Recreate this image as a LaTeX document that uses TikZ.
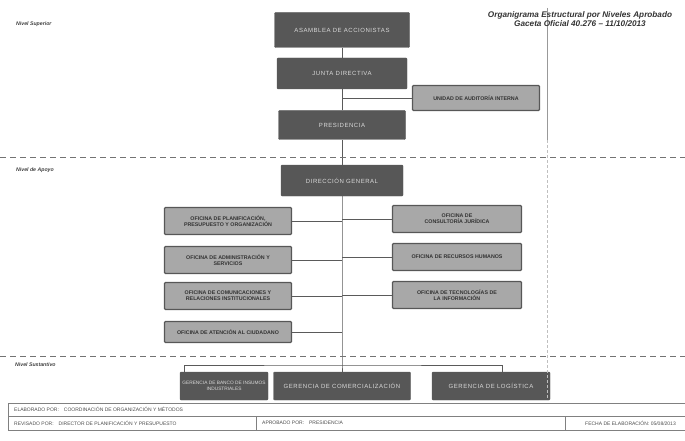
\documentclass[tikz,border=0pt]{standalone}
\usepackage{fontspec}
\setmainfont{Liberation Sans}
\newfontfamily\espaciada[LetterSpace=9]{Liberation Sans}
\definecolor{boxdark}{HTML}{575757}
\definecolor{boxlight}{HTML}{A8A8A8}
\definecolor{linegray}{HTML}{5A5A5A}

\begin{document}
\begin{tikzpicture}[x=1pt,y=-1pt,
	mainbox/.style={draw=boxdark,fill=boxdark,rounded corners=1pt,text=white!85!black,align=center,inner sep=1pt,font=\espaciada\fontsize{6}{7}\selectfont},
	offbox/.style={draw=boxdark,line width=1.3pt,fill=boxlight,rounded corners=1pt,text=black!80,align=center,inner sep=1pt,font=\bfseries\fontsize{5.3}{6}\selectfont,minimum width=127,minimum height=27},
	link/.style={draw=linegray,line width=0.8pt},
	nivel/.style={dashed,dash pattern=on 6pt off 4pt,draw=black!55,line width=0.7pt},
	nivtext/.style={anchor=west,inner sep=0pt,font=\bfseries\itshape\fontsize{5.2}{6}\selectfont,text=black!75},
	pie/.style={anchor=west,inner sep=0pt,font=\fontsize{5}{6}\selectfont,text=black!70}]
	\useasboundingbox (0,0) rectangle (685,441);
	
	% nivel superior
	\node[mainbox,minimum width=135,minimum height=35] (asam)   at (342, 30)   {ASAMBLEA DE ACCIONISTAS};
	\node[mainbox,minimum width=130,minimum height=31] (junta)  at (342, 73.5) {JUNTA DIRECTIVA};
	\node[offbox, minimum width=127,minimum height=25] (audit)  at (476, 98)   {UNIDAD DE AUDITORÍA INTERNA};
	\node[mainbox,minimum width=127,minimum height=29] (pres)   at (342,125)   {PRESIDENCIA};
	\node[mainbox,minimum width=122,minimum height=31] (dirgen) at (342,180.5) {DIRECCIÓN GENERAL};
	
	% nivel de apoyo
	\def\izq {ofpla/221/{OFICINA DE PLANIFICACIÓN,\\PRESUPUESTO Y ORGANIZACIÓN}, ofadm/260/{OFICINA DE ADMINISTRACIÓN Y\\SERVICIOS}, ofcom/296/{OFICINA DE COMUNICACIONES Y\\RELACIONES INSTITUCIONALES}}
	\foreach \n/\y/\txt in \izq
	{	\node[offbox] (\n) at (228,\y) {\txt};
		\draw[link] (\n.east) -- (\n.east -| dirgen.south);
	}
	\node[offbox,minimum height=21] (ofaci) at (228,332) {OFICINA DE ATENCIÓN AL CIUDADANO};
	\draw[link] (ofaci.east) -- (ofaci.east -| dirgen.south);
	\def\der {ofjur/219/{OFICINA DE\\CONSULTORÍA JURÍDICA}, ofrrh/257/{OFICINA DE RECURSOS HUMANOS}, oftic/295/{OFICINA DE TECNOLOGÍAS DE\\LA INFORMACIÓN}}
	\foreach \n/\y/\txt in \der
	{	\node[offbox,minimum width=129] (\n) at (457,\y) {\txt};
		\draw[link] (\n.west) -- (\n.west -| dirgen.south);
	}
	
	% nivel sustantivo
	\node[mainbox,minimum width=88, minimum height=28,font=\fontsize{4.8}{5.8}\selectfont] (ger1) at (224,386) {GERENCIA DE BANCO DE INSUMOS\\INDUSTRIALES};
	\node[mainbox,minimum width=137,minimum height=28] (ger2) at (342,386) {GERENCIA DE COMERCIALIZACIÓN};
	\node[mainbox,minimum width=118,minimum height=28] (ger3) at (491,386) {GERENCIA DE LOGÍSTICA};
	\coordinate (brk) at (342,365);
	
	\draw[link] (asam) -- (junta);
	\draw[link] (junta) -- (pres);
	\draw[link] (audit.west) -- (audit.west -| junta.south);
	\draw[link] (pres) -- (dirgen);
	\draw[link] (dirgen.south) -- (brk) -- (ger2.north);
	\draw[link] ([xshift=5pt]ger1.north west) |- (brk) -| ([xshift=11pt]ger3.north);
	
	% separadores de nivel
	\draw[nivel] (0,157) -- (685,157);
	\draw[nivel] (0,356) -- (685,356);
	\draw[draw=black!40,line width=0.6pt] (547,8) -- (547,140);
	\draw[draw=black!25,line width=0.5pt,dash pattern=on 3pt off 2pt] (547,140) -- (547,400);
	\node[nivtext] (nsup) at (16, 24)  {Nivel Superior};
	\node[nivtext] (napo) at (16,170)  {Nivel de Apoyo};
	\node[nivtext] (nsus) at (15,365)  {Nivel Sustantivo};
	
	\node[align=center,inner sep=0pt,font=\bfseries\itshape\fontsize{8.2}{8.8}\selectfont,text=black!80] (titulo) at (580,19)
		{Organigrama Estructural por Niveles Aprobado\\Gaceta Oficial 40.276 -- 11/10/2013};
	
	% pie
	\draw[draw=black!50,line width=0.5pt] (8,403) -- (685,403) (8,416) -- (685,416) (8,430) -- (685,430);
	\draw[draw=black!50,line width=0.5pt] (8,403) -- (8,430) (256,416) -- (256,430) (565,416) -- (565,430);
	\node[pie] (elab) at (14,409.5) {ELABORADO POR:\quad COORDINACIÓN DE ORGANIZACIÓN Y MÉTODOS};
	\node[pie] (revi) at (14,423)   {REVISADO POR:\quad DIRECTOR DE PLANIFICACIÓN Y PRESUPUESTO};
	\node[pie] (apro) at (262,423)  {APROBADO POR:\quad PRESIDENCIA};
	\node[pie] (fech) at (585,423)  {FECHA DE ELABORACIÓN: 05/08/2013};
\end{tikzpicture}
\end{document}
